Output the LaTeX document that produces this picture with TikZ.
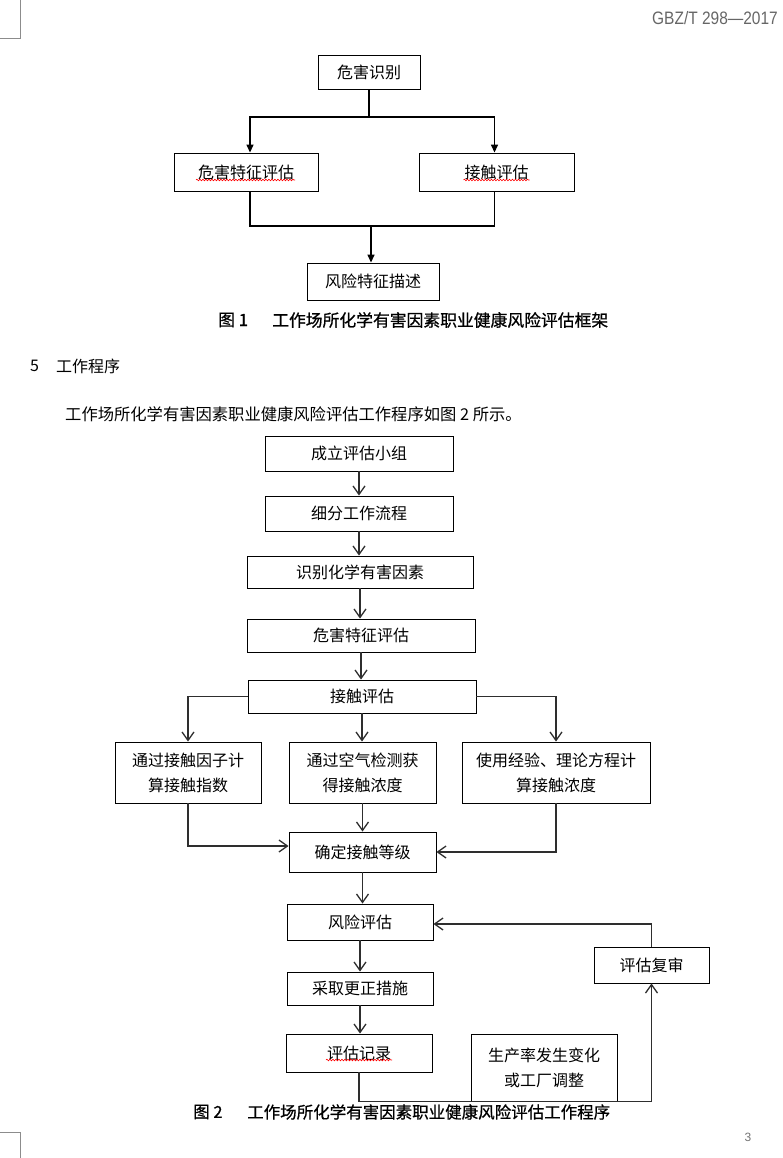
\documentclass[tikz,border=0pt]{standalone}
\usepackage{fontspec}
\setmainfont{Noto Sans CJK SC}
\newfontfamily\capfont[FakeBold=0.8]{Noto Sans CJK SC}
\newfontfamily\hdrfont{Liberation Sans}
\usetikzlibrary{arrows.meta,decorations.pathmorphing}

\begin{document}
\begin{tikzpicture}[x=1pt,y=-1pt,
  box/.style={draw,line width=0.9pt,inner sep=0pt,align=center,font=\fontsize{16}{25}\selectfont},
  txt/.style={inner sep=0pt,anchor=west,font=\fontsize{16}{20}\selectfont},
  captxt/.style={txt,font=\capfont\fontsize{16.8}{17}\selectfont},
  line1/.style={line width=1.4pt},
  arr1/.style={line1,-{Triangle[length=8pt,width=7pt]}},
  line2/.style={draw=black!82,line width=1.2pt},
  arr2/.style={line2,-{Straight Barb[length=8.5pt,width=12pt,line width=1.3pt]}},
  wavy/.style={draw=red,line width=0.6pt,decorate,decoration={snake,amplitude=0.8pt,segment length=3pt}},
  cropmark/.style={draw=black!45,line width=0.8pt}]
\useasboundingbox (0,0) rectangle (783,1158);

\draw[cropmark] (0,38) -- (20,38) -- (20,0);
\draw[cropmark] (0,1132) -- (20,1132) -- (20,1158);
\node[anchor=west,inner sep=0pt,text=black!60,font=\hdrfont\fontsize{18}{18}\selectfont,xscale=.86] (hdr) at (652,18) {GBZ/T 298—2017};
\node[inner sep=0pt,text=black!55,font=\hdrfont\fontsize{12}{12}\selectfont] (pageno) at (748,1137) {3};

\node[box,minimum width=102pt,minimum height=34pt] (hazid) at (369,72) {危害识别};
\node[box,minimum width=144pt,minimum height=38pt] (hazchar) at (246,172) {危害特征评估};
\node[box,minimum width=155pt,minimum height=38pt] (expo) at (496.5,172) {接触评估};
\node[box,minimum width=132pt,minimum height=37pt] (riskchar) at (373,281.5) {风险特征描述};

\coordinate (split) at (369,117);
\coordinate (join) at (371,226);

\draw[line1] (hazid.south) -- (split);
\draw[arr1] (split) -| ([xshift=4pt]hazchar.north);
\draw[arr1] (split) -| ([xshift=-2pt]expo.north);
\draw[line1] ([xshift=4pt]hazchar.south) |- (join) -| ([xshift=-2pt]expo.south);
\draw[arr1] (join) -- (join |- riskchar.north);

\draw[wavy] ([xshift=-50pt,yshift=-8pt]hazchar.center) -- ([xshift=49pt,yshift=-8pt]hazchar.center);
\draw[wavy] ([xshift=-33pt,yshift=-8pt]expo.center) -- ([xshift=33pt,yshift=-8pt]expo.center);

\node[captxt] (cap1no) at (218,320) {图 1};
\node[captxt] (cap1) at (272,320) {工作场所化学有害因素职业健康风险评估框架};

\node[txt] (secno) at (30,366) {5};
\node[txt] (sec) at (56,366) {工作程序};
\node[txt,font=\fontsize{16.3}{20}\selectfont] (para) at (65,414) {工作场所化学有害因素职业健康风险评估工作程序如图 2 所示。};

\node[box,minimum width=188pt,minimum height=35pt] (g1) at (359,453.5) {成立评估小组};
\node[box,minimum width=188pt,minimum height=35pt] (g2) at (359,513.5) {细分工作流程};
\node[box,minimum width=226pt,minimum height=32pt] (g3) at (360,572) {识别化学有害因素};
\node[box,minimum width=228pt,minimum height=33pt] (g4) at (361,635.5) {危害特征评估};
\node[box,minimum width=228pt,minimum height=33pt] (g5) at (362,696.5) {接触评估};
\node[box,minimum width=146pt,minimum height=61pt] (g6a) at (188,772.5) {通过接触因子计\\算接触指数};
\node[box,minimum width=147pt,minimum height=61pt] (g6b) at (362.5,772.5) {通过空气检测获\\得接触浓度};
\node[box,minimum width=188pt,minimum height=61pt] (g6c) at (556,772.5) {使用经验、理论方程计\\算接触浓度};
\node[box,minimum width=147pt,minimum height=40pt] (g7) at (362.5,852) {确定接触等级};
\node[box,minimum width=146pt,minimum height=36pt] (g8) at (360,922) {风险评估};
\node[box,minimum width=146pt,minimum height=33pt] (g9) at (360,988.5) {采取更正措施};
\node[box,minimum width=146pt,minimum height=38pt] (g10) at (359,1053) {评估记录};
\node[box,minimum width=146pt,minimum height=67pt] (g11) at (544,1067.5) {生产率发生变化\\或工厂调整};
\node[box,minimum width=115pt,minimum height=36pt] (g12) at (651.5,965) {评估复审};

\foreach \a/\b in {g1/g2,g2/g3,g3/g4,g4/g5,g5/g6b,g6b/g7,g7/g8,g8/g9,g9/g10}
  \draw[arr2] (\a.south) -- (\a.south |- \b.north);
\draw[arr2] (g5.west) -| (g6a.north);
\draw[arr2] (g5.east) -| (g6c.north);
\draw[arr2] (g6a.south) |- ([yshift=6pt]g7.west);
\draw[arr2] (g6c.south) |- (g7.east);

\coordinate (loop) at (g10.south |- g11.south);
\draw[arr2] (g10.south) -- (loop) -| (g12.south);
\draw[arr2] (g12.north) |- ([yshift=-2pt]g8.east);

\draw[wavy] ([xshift=-33pt,yshift=-7pt]g10.center) -- ([xshift=33pt,yshift=-7pt]g10.center);

\node[captxt,font=\capfont\fontsize{16.5}{17}\selectfont] (cap2no) at (193,1112) {图 2};
\node[captxt,font=\capfont\fontsize{16.5}{17}\selectfont] (cap2) at (247,1112) {工作场所化学有害因素职业健康风险评估工作程序};
\end{tikzpicture}
\end{document}
